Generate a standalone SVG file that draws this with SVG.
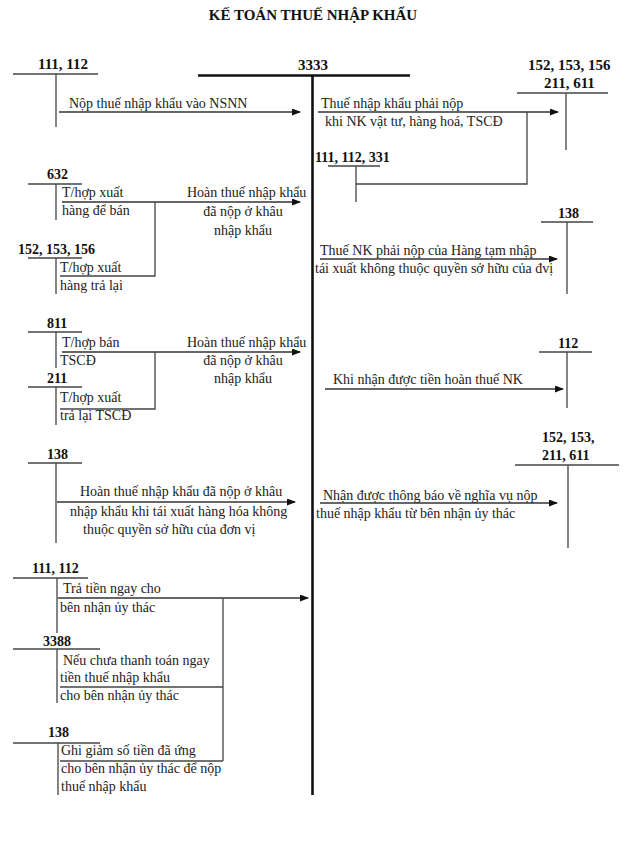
<svg xmlns="http://www.w3.org/2000/svg" width="638" height="848" viewBox="0 0 638 848">
<defs>
<marker id="ah" markerWidth="9" markerHeight="7" refX="8" refY="3.5" orient="auto" markerUnits="userSpaceOnUse">
<path d="M0,0 L9,3.5 L0,7 z" fill="#111"/>
</marker>
<style>
text{font-family:"Liberation Serif","Times New Roman",serif;font-size:14px;fill:#222}
.lb{font-weight:bold;font-size:14px;fill:#111}
.lb15{font-weight:bold;font-size:15px;fill:#111}
.t{font-weight:bold;font-size:15px;fill:#111}
.mid{text-anchor:middle}
line,polyline{stroke:#444;stroke-width:1.3;fill:none}
.arr{stroke:#333;stroke-width:1.3;marker-end:url(#ah)}
.thick{stroke:#111;stroke-width:2.6}
</style>
</defs>
<rect width="638" height="848" fill="#fff"/>
<text class="t mid" x="313" y="20">KẾ TOÁN THUẾ NHẬP KHẨU</text>

<g id="acc3333">
<text class="lb15" x="298" y="70">3333</text>
<line class="thick" x1="198" y1="75.5" x2="410" y2="75.5"/>
<line class="thick" x1="312.5" y1="75" x2="312.5" y2="795"/>
</g>

<g id="acc111_112_top">
<text class="lb15" x="38" y="69">111, 112</text>
<line x1="13" y1="74" x2="98" y2="74"/>
<line x1="56" y1="74" x2="56" y2="127"/>
</g>

<g id="acc152_top">
<text class="lb15" x="528" y="70">152, 153, 156</text>
<text class="lb15" x="544" y="88">211, 611</text>
<line x1="517" y1="93" x2="608" y2="93"/>
<line x1="566" y1="93" x2="566" y2="150"/>
</g>

<g id="acc111_112_331">
<text class="lb" x="315" y="162">111, 112, 331</text>
<line x1="328" y1="166" x2="380" y2="166"/>
<line x1="356" y1="166" x2="356" y2="202"/>
</g>

<g id="acc632">
<text class="lb" x="47" y="179">632</text>
<line x1="28" y1="184" x2="82" y2="184"/>
<line x1="56" y1="184" x2="56" y2="220"/>
<text x="62" y="197">T/hợp xuất</text>
<text x="62" y="215">hàng để bán</text>
</g>

<g id="acc152_left">
<text class="lb" x="18" y="254">152, 153, 156</text>
<line x1="28" y1="258" x2="82" y2="258"/>
<line x1="56" y1="258" x2="56" y2="294"/>
<text x="60" y="272">T/hợp xuất</text>
<text x="60" y="290">hàng trả lại</text>
</g>

<g id="acc138_right">
<text class="lb" x="558" y="218">138</text>
<line x1="541" y1="222" x2="593" y2="222"/>
<line x1="567" y1="222" x2="567" y2="294"/>
</g>

<g id="acc811">
<text class="lb" x="47" y="328">811</text>
<line x1="28" y1="332" x2="82" y2="332"/>
<line x1="56" y1="332" x2="56" y2="368"/>
<text x="62" y="347">T/hợp bán</text>
<text x="60" y="365">TSCĐ</text>
</g>

<g id="acc211">
<text class="lb" x="47" y="383">211</text>
<line x1="28" y1="387" x2="82" y2="387"/>
<line x1="56" y1="387" x2="56" y2="425"/>
<text x="60" y="402">T/hợp xuất</text>
<text x="60" y="420">trả lại TSCĐ</text>
</g>

<g id="acc112_right">
<text class="lb" x="558" y="348">112</text>
<line x1="539" y1="352" x2="592" y2="352"/>
<line x1="567" y1="352" x2="567" y2="408"/>
</g>

<g id="acc138_left">
<text class="lb" x="47" y="459">138</text>
<line x1="28" y1="463" x2="82" y2="463"/>
<line x1="56" y1="463" x2="56" y2="543"/>
</g>

<g id="acc152_right2">
<text class="lb" x="542" y="442">152, 153,</text>
<text class="lb" x="542" y="460">211, 611</text>
<line x1="515" y1="465" x2="619" y2="465"/>
<line x1="568" y1="465" x2="568" y2="548"/>
</g>

<g id="acc111_112_bottom">
<text class="lb" x="32" y="573">111, 112</text>
<line x1="13" y1="578" x2="88" y2="578"/>
<line x1="57" y1="578" x2="57" y2="633"/>
<text x="63" y="593">Trả tiền ngay cho</text>
<text x="60" y="612">bên nhận ủy thác</text>
</g>

<g id="acc3388">
<text class="lb" x="43" y="646">3388</text>
<line x1="13" y1="649" x2="100" y2="649"/>
<line x1="57" y1="649" x2="57" y2="703"/>
<text x="63" y="665">Nếu chưa thanh toán ngay</text>
<text x="60" y="682">tiền thuế nhập khẩu</text>
<text x="60" y="700">cho bên nhận ủy thác</text>
</g>

<g id="acc138_bottom">
<text class="lb" x="48" y="737">138</text>
<line x1="13" y1="743" x2="100" y2="743"/>
<line x1="58" y1="743" x2="58" y2="795"/>
<text x="61" y="755">Ghi giảm số tiền đã ứng</text>
<text x="61" y="773">cho bên nhận ủy thác để nộp</text>
<text x="61" y="791">thuế nhập khẩu</text>
</g>

<g id="connectors">
<line class="arr" x1="59" y1="112" x2="300" y2="112"/>
<line class="arr" x1="318" y1="112" x2="558" y2="112"/>
<polyline points="527,112 527,184 356,184"/>
<line class="arr" x1="62" y1="202" x2="300" y2="202"/>
<polyline points="155,202 155,276 60,276"/>
<line class="arr" x1="320" y1="259" x2="557" y2="259"/>
<line class="arr" x1="62" y1="352" x2="300" y2="352"/>
<polyline points="155,352 155,409 60,409"/>
<line class="arr" x1="325" y1="389" x2="563" y2="389"/>
<line class="arr" x1="57" y1="502" x2="295" y2="502"/>
<line class="arr" x1="320" y1="503" x2="557" y2="503"/>
<line class="arr" x1="58" y1="598" x2="308" y2="598"/>
<line x1="223" y1="598" x2="223" y2="761"/>
<line x1="60" y1="687" x2="223" y2="687"/>
<line x1="60" y1="761" x2="223" y2="761"/>
</g>

<g id="connector-labels">
<text x="69" y="108">Nộp thuế nhập khẩu vào NSNN</text>
<text x="321" y="108">Thuế nhập khẩu phải nộp</text>
<text x="325" y="126">khi NK vật tư, hàng hoá, TSCĐ</text>
<text x="187" y="197">Hoàn thuế nhập khẩu</text>
<text class="mid" x="243" y="216">đã nộp ở khâu</text>
<text class="mid" x="243" y="235">nhập khẩu</text>
<text x="320" y="255">Thuế NK phải nộp của Hàng tạm nhập</text>
<text x="315" y="273">tái xuất không thuộc quyền sở hữu của đvị</text>
<text x="187" y="347">Hoàn thuế nhập khẩu</text>
<text class="mid" x="243" y="365">đã nộp ở khâu</text>
<text class="mid" x="243" y="383">nhập khẩu</text>
<text x="333" y="384">Khi nhận được tiền hoàn thuế NK</text>
<text x="80" y="496">Hoàn thuế nhập khẩu đã nộp ở khâu</text>
<text x="70" y="516">nhập khẩu khi tái xuất hàng hóa không</text>
<text x="83" y="534">thuộc quyền sở hữu của đơn vị</text>
<text x="323" y="500">Nhận được thông báo về nghĩa vụ nộp</text>
<text x="316" y="518">thuế nhập khẩu từ bên nhận ủy thác</text>
</g>
</svg>
